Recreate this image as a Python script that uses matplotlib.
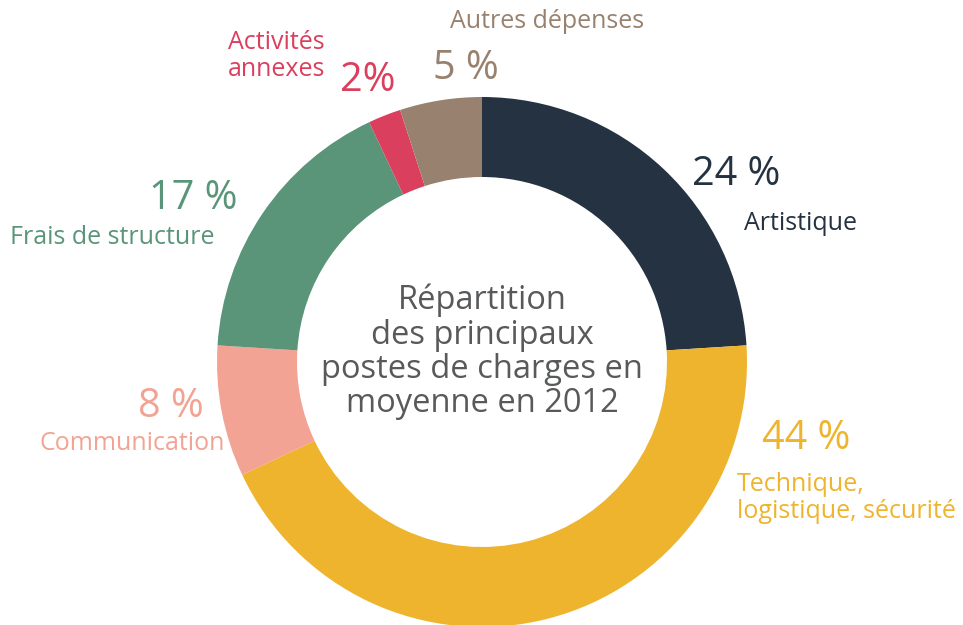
import matplotlib.pyplot as plt
from matplotlib.transforms import Affine2D

# Share of main cost items (%), clockwise from the top
categories = ["Artistique", "Technique,\nlogistique, sécurité", "Communication",
              "Frais de structure", "Activités\nannexes", "Autres dépenses"]
shares = [24, 44, 8, 17, 2, 5]
pct_labels = ["24 %", "44 %", "8 %", "17 %", "2%", "5 %"]
colors = ["#243241", "#EFB42D", "#F2A393", "#5A957A", "#DB3F5E", "#98826F"]
center_title = "Répartition\ndes principaux\npostes de charges en\nmoyenne en 2012"

plt.rcParams['font.family'] = ['Open Sans', 'DejaVu Sans']

W, H = 963, 625
fig = plt.figure(figsize=(W / 100, H / 100), dpi=100)
ax = fig.add_axes([0, 0, 1, 1])
ax.set_aspect('equal')
ax.axis('off')

cx, cy, r = 482, 362, 265
ax.pie(shares, colors=colors, startangle=90, counterclock=False,
       center=(cx, -cy), radius=r, wedgeprops=dict(width=80, linewidth=0))
# pie draws in y-up space; flip it into the pixel frame
for p in ax.patches:
    p.set_transform(Affine2D().scale(1, -1) + ax.transData)
ax.set_xlim(0, W)
ax.set_ylim(H, 0)

big = 28.5
small = 18

# label placement: (pct x, pct y, pct ha, cat x, cat y, cat ha)
spots = [
    (736, 175, "center", 744, 223, "left"),
    (806, 439, "center", 737, 498, "left"),
    (204, 407, "right", 225, 444, "right"),
    (237, 199, "right", 214, 238, "right"),
    (368, 81, "center", 228, 56, "left"),
    (466, 69, "center", 547, 22, "center"),
]
for (px, py, pha, lx, ly, lha), pct, cat, col in zip(spots, pct_labels, categories, colors):
    ax.text(px, py, pct, color=col, fontsize=big, ha=pha, va="center")
    ax.text(lx, ly, cat, color=col, fontsize=small, ha=lha, va="center",
            linespacing=1.1)

ax.text(cx, 352, center_title, color="#58595B", fontsize=23.5, ha="center",
        va="center", linespacing=1.05)

fig.savefig("out.png", dpi=100)
